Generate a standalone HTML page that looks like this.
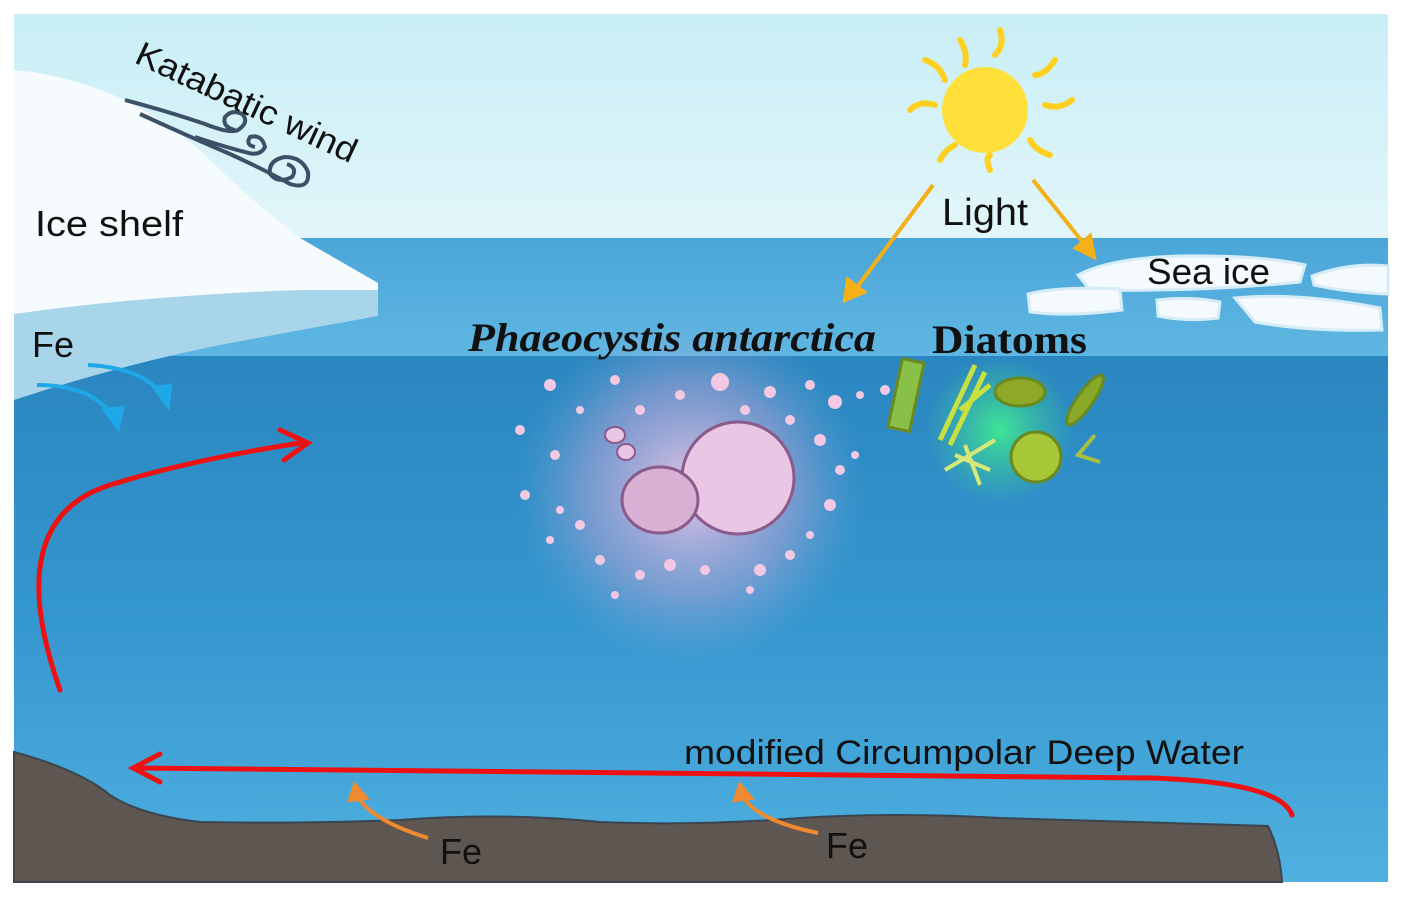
<!DOCTYPE html>
<html><head><meta charset="utf-8"><style>html,body{margin:0;padding:0;background:#fff}svg{display:block}</style></head>
<body>
<svg width="1410" height="899" viewBox="0 0 1410 899" xmlns="http://www.w3.org/2000/svg" font-family="'Liberation Sans', sans-serif">
<defs>
<linearGradient id="sky" x1="0" y1="0" x2="0" y2="1"><stop offset="0" stop-color="#c9eef6"/><stop offset="1" stop-color="#e2f6fa"/></linearGradient>
<linearGradient id="sea" x1="0" y1="0" x2="0" y2="1"><stop offset="0" stop-color="#2a86c0"/><stop offset="0.5" stop-color="#3597cf"/><stop offset="1" stop-color="#50b0e0"/></linearGradient>
<linearGradient id="surf" x1="0" y1="0" x2="0" y2="1"><stop offset="0" stop-color="#4aa6d8"/><stop offset="1" stop-color="#5fb6e2"/></linearGradient>
<radialGradient id="pink" cx="0.5" cy="0.5" r="0.5"><stop offset="0" stop-color="#e8c8e8" stop-opacity="0.95"/><stop offset="0.6" stop-color="#c8a8d8" stop-opacity="0.45"/><stop offset="1" stop-color="#80a8d8" stop-opacity="0"/></radialGradient>
<radialGradient id="green" cx="0.5" cy="0.5" r="0.5"><stop offset="0" stop-color="#40f090" stop-opacity="0.9"/><stop offset="1" stop-color="#40d090" stop-opacity="0"/></radialGradient>
</defs>
<rect x="14" y="14" width="1374" height="224" fill="url(#sky)"/>
<rect x="14" y="238" width="1374" height="118" fill="url(#surf)"/>
<rect x="14" y="356" width="1374" height="526" fill="url(#sea)"/>
<path d="M14,400 L14,313 Q150,295 300,288 L378,286 L378,316 Q300,330 220,345 Q120,365 14,400 Z" fill="#a9d5ea"/>
<path d="M14,70 Q120,80 200,150 Q250,200 300,238 L378,283 L378,290 L300,290 Q150,295 14,314 Z" fill="#f6fbfd"/>
<g fill="#f4fafd" stroke="#d6ecf6" stroke-width="3">
<path d="M1078,275 Q1110,258 1180,256 Q1260,255 1305,265 L1300,282 Q1200,292 1090,290 Z"/>
<path d="M1028,294 Q1060,286 1120,289 L1122,310 Q1070,317 1030,312 Z"/>
<path d="M1157,300 Q1190,296 1220,302 L1218,318 Q1185,322 1158,316 Z"/>
<path d="M1235,298 Q1300,292 1380,308 L1382,330 Q1310,332 1255,322 Z"/>
<path d="M1312,276 Q1350,262 1388,266 L1388,294 Q1345,292 1314,285 Z"/>
</g>
<path d="M14,752 Q80,770 110,795 Q140,815 200,822 Q300,824 400,820 Q500,812 600,822 Q700,826 800,818 Q900,812 1000,818 Q1150,822 1268,826 Q1280,850 1282,882 L14,882 Z" fill="#5e5650" stroke="#3a4550" stroke-width="2"/>
<g fill="#ffe03a">
<circle cx="985" cy="110" r="43"/>
<g stroke="#ffd020" stroke-width="6" fill="none" stroke-linecap="round">
<path d="M1000,30 Q1005,45 995,55"/><path d="M1055,60 Q1045,75 1035,75"/><path d="M1072,100 Q1060,110 1045,105"/>
<path d="M1050,155 Q1035,150 1030,140"/><path d="M990,170 Q985,158 990,155"/><path d="M940,160 Q945,150 955,145"/>
<path d="M910,110 Q920,100 935,105"/><path d="M925,60 Q940,65 945,80"/><path d="M960,40 Q968,52 965,65"/>
</g></g>
<g stroke="#f4b016" stroke-width="4" fill="#f4b016">
<line x1="933" y1="185" x2="855" y2="290"/><path d="M845,300 L848,280 L864,292 Z"/>
<line x1="1033" y1="180" x2="1085" y2="245"/><path d="M1094,257 L1076,248 L1090,236 Z"/>
</g>
<g fill="none" stroke="#3c5068" stroke-width="4" transform="translate(0,12)">
<path d="M125,88 Q170,100 205,112 Q230,122 238,118 Q250,110 242,102 Q232,97 225,105 Q222,115 235,118"/>
<path d="M140,102 Q190,125 230,142 Q265,158 290,172 Q310,178 308,160 Q302,145 285,145 Q268,148 270,162 Q278,172 292,165 Q298,156 287,152"/>
<path d="M195,125 Q225,135 245,140 Q260,145 265,135 Q262,122 250,125 Q245,133 255,135"/>
</g>
<circle cx="690" cy="490" r="175" fill="url(#pink)"/>
<g fill="#f2c8e2">
<circle cx="550" cy="385" r="6"/><circle cx="580" cy="410" r="4"/><circle cx="615" cy="380" r="5"/><circle cx="720" cy="382" r="9"/><circle cx="770" cy="392" r="6"/><circle cx="810" cy="385" r="5"/><circle cx="835" cy="402" r="7"/><circle cx="860" cy="395" r="4"/><circle cx="885" cy="390" r="5"/>
<circle cx="520" cy="430" r="5"/><circle cx="555" cy="455" r="5"/><circle cx="525" cy="495" r="5"/><circle cx="560" cy="510" r="4"/><circle cx="580" cy="525" r="5"/><circle cx="550" cy="540" r="4"/>
<circle cx="600" cy="560" r="5"/><circle cx="640" cy="575" r="5"/><circle cx="670" cy="565" r="6"/><circle cx="705" cy="570" r="5"/><circle cx="760" cy="570" r="6"/><circle cx="790" cy="555" r="5"/><circle cx="810" cy="535" r="4"/><circle cx="830" cy="505" r="6"/><circle cx="840" cy="470" r="5"/><circle cx="820" cy="440" r="6"/><circle cx="855" cy="455" r="4"/><circle cx="640" cy="410" r="5"/><circle cx="680" cy="395" r="5"/><circle cx="745" cy="410" r="5"/><circle cx="790" cy="420" r="5"/><circle cx="750" cy="590" r="4"/><circle cx="615" cy="595" r="4"/>
</g>
<g stroke="#8a5a8a" stroke-width="3">
<circle cx="738" cy="478" r="56" fill="#e8c6e4"/>
<ellipse cx="660" cy="500" rx="38" ry="33" fill="#d8b0d4"/>
<ellipse cx="615" cy="435" rx="10" ry="8" fill="#e8c6e4" stroke-width="2"/>
<ellipse cx="626" cy="452" rx="9" ry="8" fill="#e8c6e4" stroke-width="2"/>
</g>
<circle cx="1000" cy="430" r="75" fill="url(#green)"/>
<g stroke="#6a8a20" stroke-width="3" fill="#b8d848">
<rect x="895" y="360" width="22" height="70" transform="rotate(12 906 395)" fill="#88c048"/>
<path d="M940,440 L975,365 M950,445 L985,372 M960,410 L990,385" fill="none" stroke="#c8e040" stroke-width="5"/>
<ellipse cx="1020" cy="392" rx="25" ry="14" fill="#90a828"/>
<ellipse cx="1085" cy="400" rx="8" ry="30" transform="rotate(35 1085 400)" fill="#88a828"/>
<circle cx="1036" cy="457" r="25" fill="#a8c838"/>
<path d="M945,470 L995,440 M965,445 L980,485 M955,455 L990,470" fill="none" stroke="#d8e878" stroke-width="4"/>
<path d="M1095,435 L1078,455 L1100,462" fill="none" stroke="#a8c040" stroke-width="4"/>
</g>
<g fill="none" stroke="#ee1111" stroke-width="5" stroke-linecap="round">
<path d="M60,690 Q0,520 110,485 Q190,460 300,443"/>
<path d="M280,430 L308,443 L284,460"/>
<path d="M1292,815 Q1280,782 1150,778 Q700,772 135,768"/>
<path d="M160,754 L133,768 L160,782"/>
</g>
<g fill="none" stroke="#1ea8e8" stroke-width="4">
<path d="M37,385 Q95,385 115,420"/><path d="M105,410 L118,428 L122,408 Z" fill="#1ea8e8"/>
<path d="M88,365 Q145,368 165,398"/><path d="M155,388 L168,406 L170,386 Z" fill="#1ea8e8"/>
</g>
<g fill="none" stroke="#f08a30" stroke-width="4">
<path d="M428,838 Q370,820 357,795"/><path d="M350,800 L355,785 L366,798 Z" fill="#f08a30"/>
<path d="M818,833 Q755,820 742,795"/><path d="M735,800 L740,785 L751,798 Z" fill="#f08a30"/>
</g>
<text x="133" y="62" font-size="34" fill="#111" transform="rotate(25 133 62)" textLength="240" lengthAdjust="spacingAndGlyphs">Katabatic wind</text>
<text x="35" y="236" font-size="36" fill="#111" textLength="148" lengthAdjust="spacingAndGlyphs">Ice shelf</text>
<text x="32" y="357" font-size="36" fill="#111">Fe</text>
<text x="942" y="225" font-size="38" fill="#111" textLength="86" lengthAdjust="spacingAndGlyphs">Light</text>
<text x="1147" y="284" font-size="36" fill="#111" textLength="123" lengthAdjust="spacingAndGlyphs">Sea ice</text>
<text x="468" y="351" font-size="40" font-weight="bold" font-style="italic" font-family="'Liberation Serif', serif" fill="#111" textLength="408" lengthAdjust="spacingAndGlyphs">Phaeocystis antarctica</text>
<text x="932" y="353" font-size="40" font-weight="bold" font-family="'Liberation Serif', serif" fill="#111" textLength="155" lengthAdjust="spacingAndGlyphs">Diatoms</text>
<text x="684" y="764" font-size="34" fill="#111" textLength="560" lengthAdjust="spacingAndGlyphs">modified Circumpolar Deep Water</text>
<text x="440" y="864" font-size="36" fill="#111">Fe</text>
<text x="826" y="858" font-size="36" fill="#111">Fe</text>
</svg>
</body></html>
